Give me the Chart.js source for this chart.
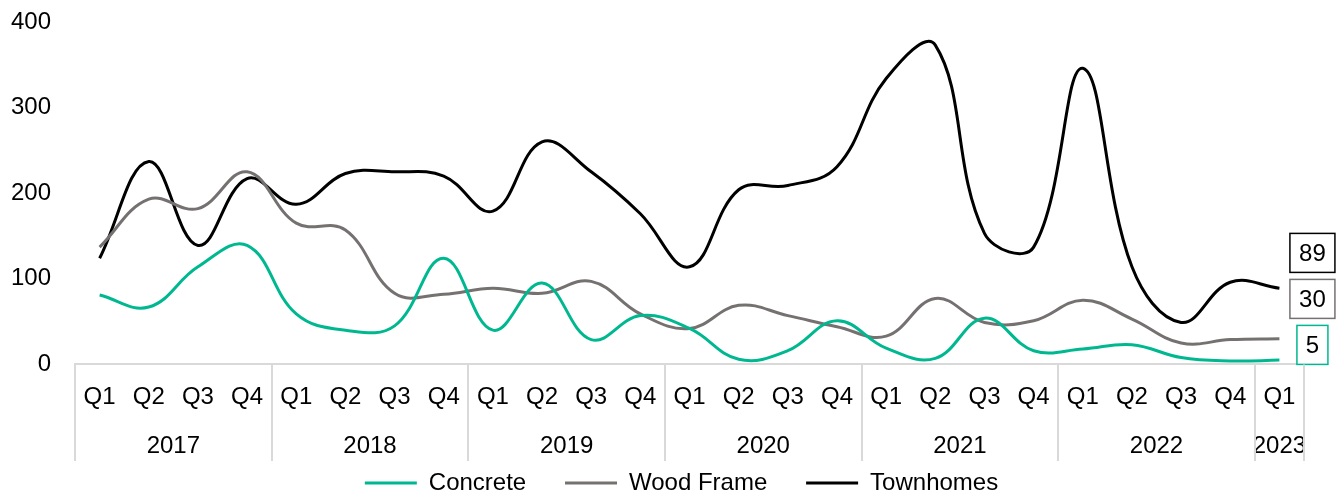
<!DOCTYPE html>
<html>
<head>
<meta charset="utf-8">
<script src="https://cdn.jsdelivr.net/npm/chart.js@4.4.1/dist/chart.umd.min.js"></script>
<style>
  html, body { margin: 0; padding: 0; background: #fff; }
  #wrap { width: 1336px; height: 492px; }
</style>
</head>
<body>
<div id="wrap"><canvas id="chart"></canvas></div>
<script>
const quarters = ['Q1','Q2','Q3','Q4','Q1','Q2','Q3','Q4','Q1','Q2','Q3','Q4',
  'Q1','Q2','Q3','Q4','Q1','Q2','Q3','Q4','Q1','Q2','Q3','Q4','Q1'];
const years = ['2017', '2018', '2019', '2020', '2021', '2022', '2023'];
const yearCenters = [1.5, 5.5, 9.5, 13.5, 17.5, 21.5, 24];
const yearBounds = [0, 4, 8, 12, 16, 20, 24, 25];

const concrete = [81, 67, 114, 139, 59, 40, 45, 124, 40, 95, 29, 57, 42, 6, 16, 51, 19, 7, 54, 16, 18, 23, 8, 4, 5];
const woodFrame = [137, 193, 182, 225, 165, 157, 83, 82, 89, 83, 97, 59, 42, 69, 57, 44, 33, 77, 49, 51, 75, 53, 25, 29, 30];
const townhomes = [124, 237, 139, 217, 187, 223, 225, 220, 179, 260, 225, 176, 114, 204, 209, 231, 334, 373, 153, 137, 346, 114, 49, 96, 89];

const FONT = 'Liberation Sans, Arial, sans-serif';
const GRID = '#d9d9d9';

// vertical separators between the years, through both label rows
const yearDividers = {
  id: 'yearDividers',
  afterLayout(chart) {
    // legend sits a bit right of the canvas centre in the original
    chart.legend.left += 24;
    chart.legend.right += 24;
  },
  afterDraw(chart) {
    const ctx = chart.ctx;
    const x = chart.scales.x;
    const bottom = chart.scales.year.bottom;
    ctx.save();
    ctx.strokeStyle = GRID;
    ctx.lineWidth = 2;
    yearBounds.forEach(b => {
      const px = Math.round(x.getPixelForValue(b - 0.5));
      ctx.beginPath();
      ctx.moveTo(px, x.top);
      ctx.lineTo(px, bottom);
      ctx.stroke();
    });
    ctx.restore();
  }
};

// boxed value labels at the end of each line, stacked up from the axis
const endLabels = {
  id: 'endLabels',
  afterDatasetsDraw(chart) {
    const ctx = chart.ctx;
    const x = chart.scales.x;
    const y = chart.scales.y;
    const items = chart.data.datasets.map(ds => ({
      value: ds.data[ds.data.length - 1],
      color: ds.borderColor
    })).sort((a, b) => a.value - b.value);

    ctx.save();
    ctx.font = '24px ' + FONT;
    ctx.textAlign = 'center';
    ctx.textBaseline = 'middle';
    const cx = x.getPixelForValue(quarters.length - 1) + 33;
    let bottom = y.getPixelForValue(0);
    items.forEach(it => {
      const text = String(it.value);
      const w = Math.round(ctx.measureText(text).width + 18);
      const h = 39;
      ctx.fillStyle = '#fff';
      ctx.fillRect(cx - w / 2, bottom - h, w, h);
      ctx.strokeStyle = it.color;
      ctx.lineWidth = 1.5;
      ctx.strokeRect(cx - w / 2, bottom - h, w, h);
      ctx.fillStyle = '#000';
      ctx.fillText(text, cx, bottom - h / 2 + 1);
      bottom -= h + 7;
    });
    ctx.restore();
  }
};

function lineSet(label, data, color) {
  return {
    label: label,
    data: data,
    borderColor: color,
    backgroundColor: color,
    borderWidth: 3,
    pointRadius: 0,
    pointHoverRadius: 0,
    tension: 0.4,
    fill: false
  };
}

new Chart(document.getElementById('chart'), {
  type: 'line',
  data: {
    labels: quarters,
    datasets: [
      lineSet('Concrete', concrete, '#00B890'),
      lineSet('Wood Frame', woodFrame, '#767171'),
      lineSet('Townhomes', townhomes, '#000000')
    ]
  },
  options: {
    responsive: true,
    maintainAspectRatio: false,
    animation: false,
    layout: { padding: { left: 11, right: 32, top: 22, bottom: 0 } },
    plugins: {
      tooltip: { enabled: false },
      legend: {
        position: 'bottom',
        maxHeight: 31,
        labels: {
          usePointStyle: true,
          pointStyle: 'line',
          pointStyleWidth: 52,
          padding: 10,
          color: '#000',
          font: { family: FONT, size: 24 },
          generateLabels(chart) {
            const n = chart.data.datasets.length;
            return chart.data.datasets.map((ds, i) => ({
              text: ds.label + (i < n - 1 ? '\u2003\u2009' : ''),
              strokeStyle: ds.borderColor,
              fillStyle: ds.borderColor,
              fontColor: '#000',
              lineWidth: 3,
              pointStyle: 'line',
              datasetIndex: i,
              hidden: false
            }));
          }
        }
      }
    },
    scales: {
      x: {
        type: 'category',
        offset: true,
        weight: 0,
        border: { color: GRID, width: 2 },
        grid: { display: false, drawTicks: true, tickLength: 19 },
        ticks: {
          padding: 0,
          autoSkip: false,
          maxRotation: 0,
          color: '#000',
          font: { family: FONT, size: 24 }
        }
      },
      year: {
        type: 'linear',
        position: 'bottom',
        weight: 1,
        min: -0.5,
        max: quarters.length - 0.5,
        afterBuildTicks: s => { s.ticks = yearCenters.map(v => ({ value: v })); },
        grid: { display: false, drawTicks: true, tickLength: 20 },
        border: { display: false },
        ticks: {
          padding: 0,
          autoSkip: false,
          maxRotation: 0,
          color: '#000',
          font: { family: FONT, size: 24 },
          callback: (v, i) => years[i]
        }
      },
      y: {
        min: 0,
        max: 400,
        grid: { display: false, drawTicks: true, tickLength: 24 },
        border: { display: false },
        ticks: {
          stepSize: 100,
          padding: 0,
          color: '#000',
          font: { family: FONT, size: 24 }
        }
      }
    }
  },
  plugins: [yearDividers, endLabels]
});
</script>
</body>
</html>
